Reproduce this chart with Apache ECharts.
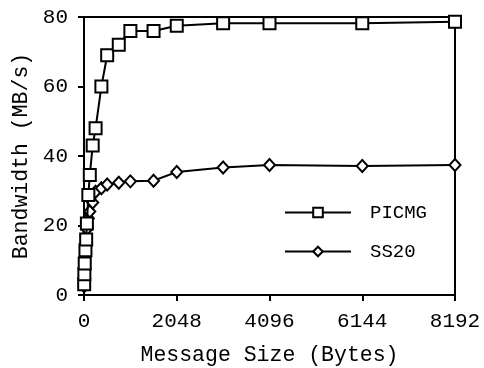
<!DOCTYPE html>
<html>
<head>
<meta charset="utf-8">
<script src="https://cdn.jsdelivr.net/npm/echarts@6/dist/echarts.min.js"></script>
<style>
  html, body { margin: 0; padding: 0; background: #fff; }
  #main { width: 484px; height: 368px; }
</style>
</head>
<body>
<div id="main"></div>
<script>
// message sizes in bytes
const sizes = [4, 8, 16, 32, 48, 64, 96, 128, 192, 256, 384, 512, 768, 1024, 1536, 2048, 3072, 4096, 6144, 8192];
// bandwidth MB/s
const picmg = [3.1, 6.0, 9.1, 12.9, 16.0, 20.6, 28.8, 34.5, 43, 48, 60, 69, 72, 76, 76, 77.5, 78.2, 78.2, 78.2, 78.6];
const ss20 = [2.5, 5, 9, 14, 17, 19, 22, 24, 26.6, 29.7, 30.7, 31.8, 32.3, 32.7, 32.9, 35.4, 36.7, 37.4, 37.1, 37.4];
const xTicks = [0, 2048, 4096, 6144, 8192];

const font = 'Liberation Mono';
const pairs = (vals) => sizes.map((s, i) => [s, vals[i]]);

const chart = echarts.init(document.getElementById('main'));
chart.setOption({
  animation: false,
  backgroundColor: '#fff',
  grid: {
    left: 84, right: 29, top: 17, bottom: 73,
    outerBoundsMode: 'none', containLabel: false,
    show: true, borderColor: '#000', borderWidth: 2
  },
  legend: {
    orient: 'vertical',
    left: 279, top: 198,
    itemWidth: 66, itemHeight: 12, itemGap: 20,
    textStyle: { fontFamily: font, fontSize: 19, color: '#000', padding: [0, 0, 0, 14] },
    data: ['PICMG', 'SS20']
  },
  xAxis: {
    type: 'value', min: 0, max: 8192, interval: 2048,
    name: 'Message Size (Bytes)', nameLocation: 'middle', nameGap: 49,
    nameTextStyle: { fontFamily: font, fontSize: 21.5, color: '#000' },
    axisLine: { show: true, lineStyle: { color: '#000', width: 2 } },
    axisTick: { show: true, inside: false, length: 6, lineStyle: { color: '#000', width: 2 } },
    axisLabel: {
      fontFamily: font, fontSize: 21, color: '#000', margin: 16,
      formatter: (v) => xTicks.includes(v) ? String(v) : ''
    },
    splitLine: { show: false }
  },
  yAxis: {
    type: 'value', min: 0, max: 80, interval: 20,
    name: 'Bandwidth (MB/s)', nameLocation: 'middle', nameGap: 51,
    nameTextStyle: { fontFamily: font, fontSize: 21.5, color: '#000' },
    axisLine: { show: true, lineStyle: { color: '#000', width: 2 } },
    axisTick: { show: true, inside: false, length: 6, lineStyle: { color: '#000', width: 2 } },
    axisLabel: { fontFamily: font, fontSize: 21, color: '#000', margin: 16 },
    splitLine: { show: false }
  },
  series: [
    {
      name: 'PICMG', type: 'line', data: pairs(picmg),
      symbol: 'rect', symbolSize: 12, showAllSymbol: true,
      lineStyle: { color: '#000', width: 2 },
      itemStyle: { color: '#fff', borderColor: '#000', borderWidth: 2 },
      z: 3
    },
    {
      name: 'SS20', type: 'line', data: pairs(ss20),
      symbol: 'diamond', symbolSize: [11, 12], showAllSymbol: true,
      lineStyle: { color: '#000', width: 2 },
      itemStyle: { color: '#fff', borderColor: '#000', borderWidth: 2 },
      z: 2
    }
  ]
});
</script>
</body>
</html>
